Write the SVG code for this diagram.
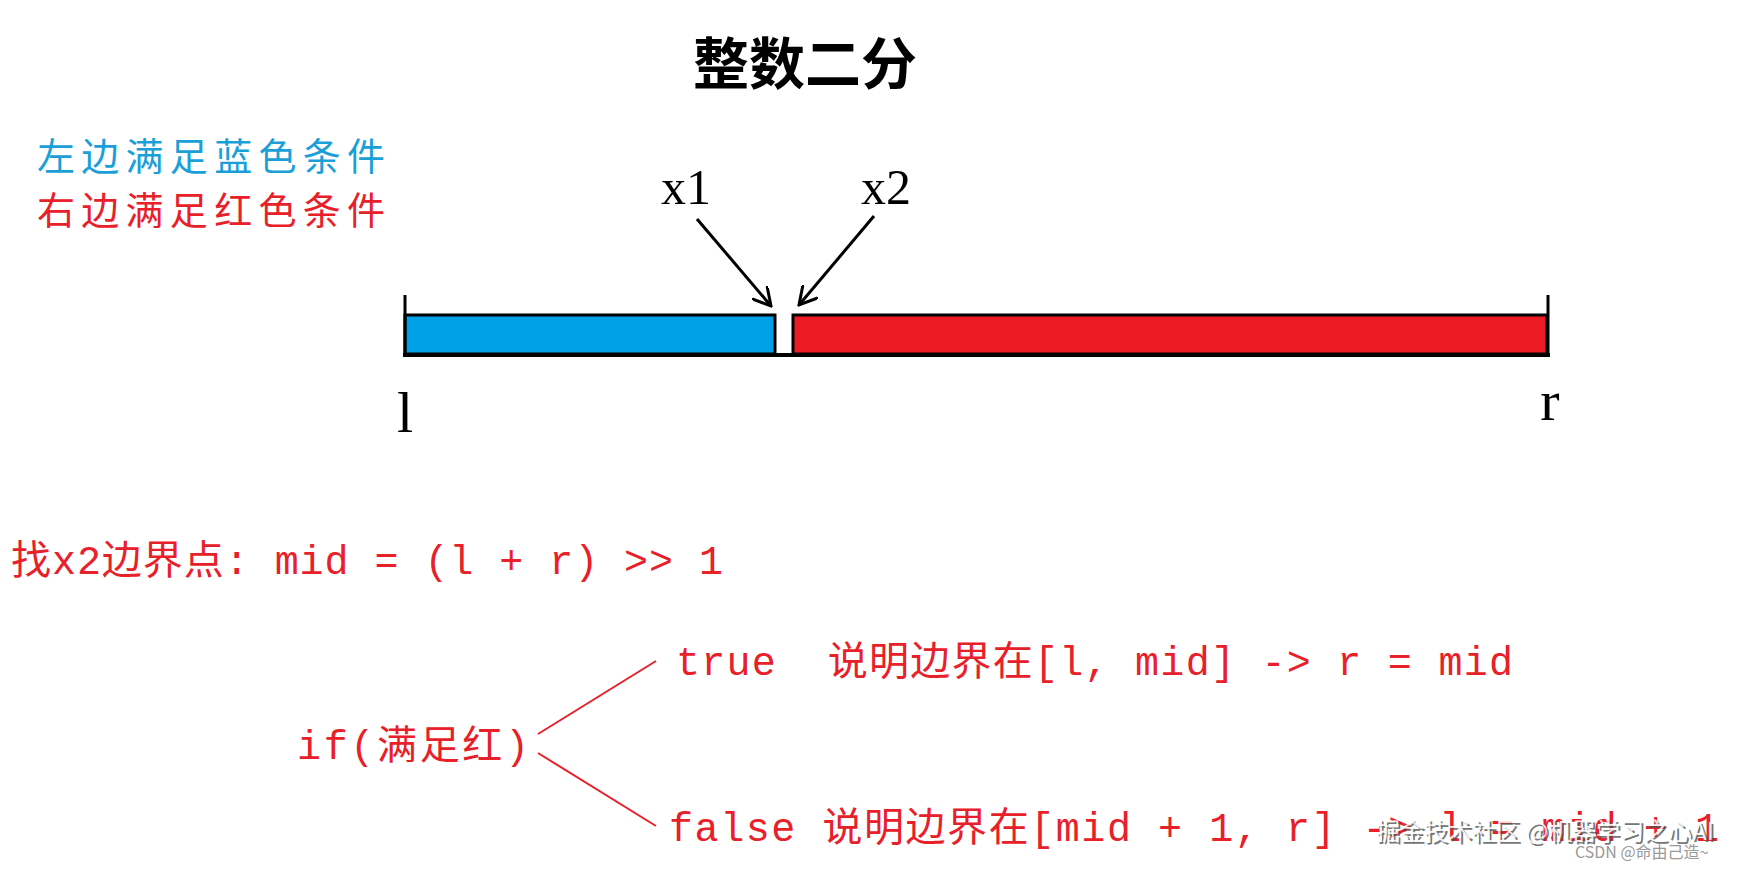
<svg xmlns="http://www.w3.org/2000/svg" width="1758" height="869" viewBox="0 0 1758 869">
<style>
.s{font-family:"Liberation Mono","Noto Sans CJK SC",monospace}
.r{fill:#e8202a}
.b{fill:#1a9fd8}
.k{fill:#000}
</style>
<defs>
<marker id="a" viewBox="0 0 20 20" refX="18" refY="10" markerWidth="20" markerHeight="20" markerUnits="userSpaceOnUse" orient="auto"><path d="M0,0 L18,10 L0,20" fill="none" stroke="#000" stroke-width="3"/></marker>
</defs>
<rect width="1758" height="869" fill="#fff"/>
<text x="805" y="84" text-anchor="middle" font-family="Noto Sans CJK SC,sans-serif" font-weight="bold" font-size="56">整数二分</text>
<g id="legend">
<text x="37" y="170" class="s b" font-size="38" textLength="348">左边满足蓝色条件</text>
<text x="37" y="224" class="s r" font-size="38" textLength="348">右边满足红色条件</text>
</g>
<g id="bar">
<rect x="405" y="315" width="370" height="39" fill="#00a0e6" stroke="#000" stroke-width="3"/>
<rect x="793" y="315" width="754" height="39" fill="#ed1c24" stroke="#000" stroke-width="3"/>
<line x1="405" y1="295" x2="405" y2="356" stroke="#000" stroke-width="3"/>
<line x1="1548" y1="295" x2="1548" y2="356" stroke="#000" stroke-width="3"/>
<line x1="403" y1="355" x2="1550" y2="355" stroke="#000" stroke-width="4"/>
<text x="405" y="432" text-anchor="middle" font-family="Liberation Serif,serif" font-size="58">l</text>
<text x="1550" y="420" text-anchor="middle" font-family="Liberation Serif,serif" font-size="58">r</text>
</g>
<g id="x1"><text x="686" y="204" text-anchor="middle" font-family="Liberation Serif,serif" font-size="50">x1</text></g>
<g id="x2"><text x="886" y="204" text-anchor="middle" font-family="Liberation Serif,serif" font-size="50">x2</text></g>
<g id="connectors" fill="none">
<line x1="697" y1="219" x2="771" y2="306" stroke="#000" stroke-width="3" marker-end="url(#a)"/>
<line x1="874" y1="216" x2="799" y2="305" stroke="#000" stroke-width="3" marker-end="url(#a)"/>
<line x1="538" y1="734" x2="656" y2="661" stroke="#e8202a" stroke-width="2"/>
<line x1="538" y1="753" x2="656" y2="826" stroke="#e8202a" stroke-width="2"/>
</g>
<g id="find"><text x="11" y="574" class="s r" font-size="40" textLength="712">找x2边界点: mid = (l + r) &gt;&gt; 1</text></g>
<g id="if"><text x="297" y="759" class="s r" font-size="40" textLength="232">if(满足红)</text></g>
<g id="true"><text x="676" y="675" class="s r" font-size="40" textLength="837" xml:space="preserve">true  说明边界在[l, mid] -&gt; r = mid</text></g>
<g id="false"><text x="669" y="841" class="s r" font-size="40" textLength="1050" xml:space="preserve">false 说明边界在[mid + 1, r] -&gt; l = mid + 1</text></g>
<g id="watermark" font-family="Noto Sans CJK SC,sans-serif">
<text x="1378" y="842" font-size="24" fill="#555" opacity="0.8">掘金技术社区 @机器学习之心AI</text>
<text x="1376" y="840" font-size="24" fill="#fff" opacity="0.9">掘金技术社区 @机器学习之心AI</text>
<text x="1575" y="858" font-size="16" fill="#999">CSDN @命由己造~</text>
</g>
</svg>
